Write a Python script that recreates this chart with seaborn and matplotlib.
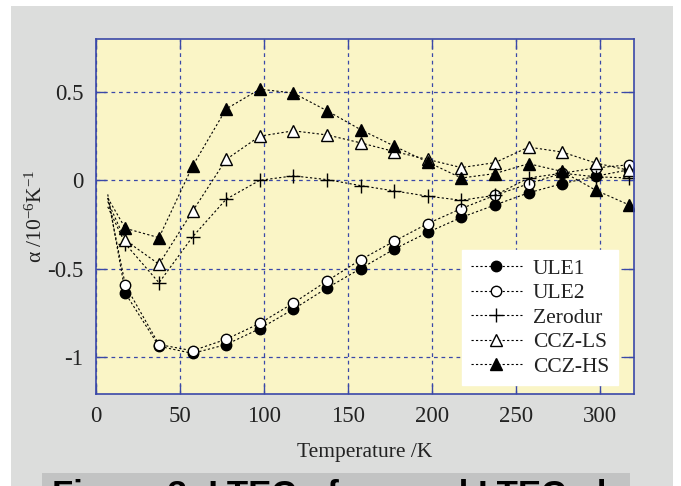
import numpy as np
import pandas as pd
import seaborn as sns
import matplotlib
matplotlib.use("Agg")
import matplotlib.pyplot as plt
from matplotlib.patches import Rectangle

# measured temperatures (K); first entry is where the dashed curves start
temps = [7, 17.5, 37.5, 57.5, 77.5, 97.5, 117.5, 137.5, 157.5, 177.5,
         197.5, 217.5, 237.5, 257.5, 277.5, 297.5, 317.5]

ule1 = [-0.08, -0.64, -0.94, -0.98, -0.93, -0.84, -0.73, -0.61, -0.50, -0.39,
        -0.295, -0.21, -0.14, -0.071, -0.019, 0.023, 0.06]
ule2 = [-0.10, -0.595, -0.93, -0.965, -0.90, -0.81, -0.695, -0.57, -0.45, -0.345,
        -0.245, -0.16, -0.085, -0.02, 0.04, 0.07, 0.088]
zerodur = [-0.15, -0.36, -0.58, -0.32, -0.107, 0.0, 0.025, 0.004, -0.03, -0.06,
           -0.09, -0.113, -0.085, 0.013, 0.04, 0.02, 0.013]
ccz_ls = [-0.12, -0.34, -0.475, -0.175, 0.118, 0.25, 0.28, 0.257, 0.212, 0.163,
          0.118, 0.072, 0.10, 0.188, 0.16, 0.098, 0.056]
ccz_hs = [-0.10, -0.272, -0.325, 0.081, 0.404, 0.516, 0.494, 0.394, 0.287, 0.194,
          0.103, 0.013, 0.038, 0.094, 0.05, -0.056, -0.14]

series = {"ULE1": ule1, "ULE2": ule2, "Zerodur": zerodur,
          "CCZ-LS": ccz_ls, "CCZ-HS": ccz_hs}

styles = {
    "ULE1": dict(marker="o", markerfacecolor="black", markersize=7.5),
    "ULE2": dict(marker="o", markerfacecolor="white", markersize=7.5),
    "Zerodur": dict(marker="+", markerfacecolor="black", markersize=10),
    "CCZ-LS": dict(marker="^", markerfacecolor="white", markersize=8),
    "CCZ-HS": dict(marker="^", markerfacecolor="black", markersize=8),
}

sns.set_theme(style="ticks")
plt.rcParams["font.family"] = ["Liberation Serif", "DejaVu Serif"]
plt.rcParams["mathtext.fontset"] = "custom"
plt.rcParams["mathtext.rm"] = "Liberation Serif"
plt.rcParams["mathtext.it"] = "Liberation Serif:italic"

blue = "#3a48a8"
txt = "#222222"
fig = plt.figure(figsize=(6.81, 4.86), dpi=100)
fig.patch.set_facecolor("white")
# grey page panel and caption strip
fig.patches.append(Rectangle((11 / 681, 0), 662 / 681, 480 / 486,
                             transform=fig.transFigure, facecolor="#dcdddc",
                             edgecolor="none", zorder=-10))
cap = Rectangle((42 / 681, 0), 588 / 681, 13.5 / 486, transform=fig.transFigure,
                facecolor="#c2c3c3", edgecolor="none", zorder=-9)
fig.patches.append(cap)

ax = fig.add_axes([96 / 681, 1 - 394 / 486, 537.5 / 681, 355 / 486])
ax.set_facecolor("#faf5c6")

for name, vals in series.items():
    df = pd.DataFrame({"T": temps, "a": vals})
    sns.lineplot(data=df, x="T", y="a", ax=ax, color="black", lw=0.8,
                 linestyle=(0, (2, 2)), markeredgecolor="black",
                 markeredgewidth=1.0, markevery=list(range(1, len(temps))),
                 label=name, sort=False, **styles[name])

ax.set_xlim(0, 320)
ax.set_ylim(-1.21, 0.80)
ax.set_xticks([0, 50, 100, 150, 200, 250, 300])
ax.set_yticks([-1, -0.5, 0, 0.5])
ax.set_yticklabels(["-1", "-0.5", "0", "0.5"])
ax.grid(True, color=blue, linestyle=(0, (3, 3)), lw=0.9)
ax.tick_params(direction="in", length=7, width=1, color=blue, top=True,
               right=True, labelsize=16.5, labelcolor=txt, pad=9)
for sp in ax.spines.values():
    sp.set_color(blue)
    sp.set_linewidth(1.2)

ax.set_xlabel("Temperature /K", fontsize=15.5, color=txt, labelpad=11)
ax.set_ylabel("α /10$^{-6}$K$^{-1}$", fontsize=15.5, color=txt, labelpad=0)

leg = ax.legend(loc="lower right", bbox_to_anchor=(0.971, 0.025),
                borderaxespad=0, fontsize=15.5, frameon=True, fancybox=False,
                framealpha=1, edgecolor="white", handlelength=2.4,
                handletextpad=0.5, labelspacing=0.2, borderpad=0.4)
leg.get_frame().set_facecolor("white")
for t in leg.get_texts():
    t.set_color(txt)

# caption of the page, cut off at the bottom edge as in the source
caption = fig.text(52 / 681, -19 / 486, "Figure 3: LTEC of several LTEC glasses",
                   fontsize=25, fontweight="bold", family="Liberation Sans",
                   color="black", va="baseline")
caption.set_clip_path(cap)

fig.savefig("out.png", dpi=100)
